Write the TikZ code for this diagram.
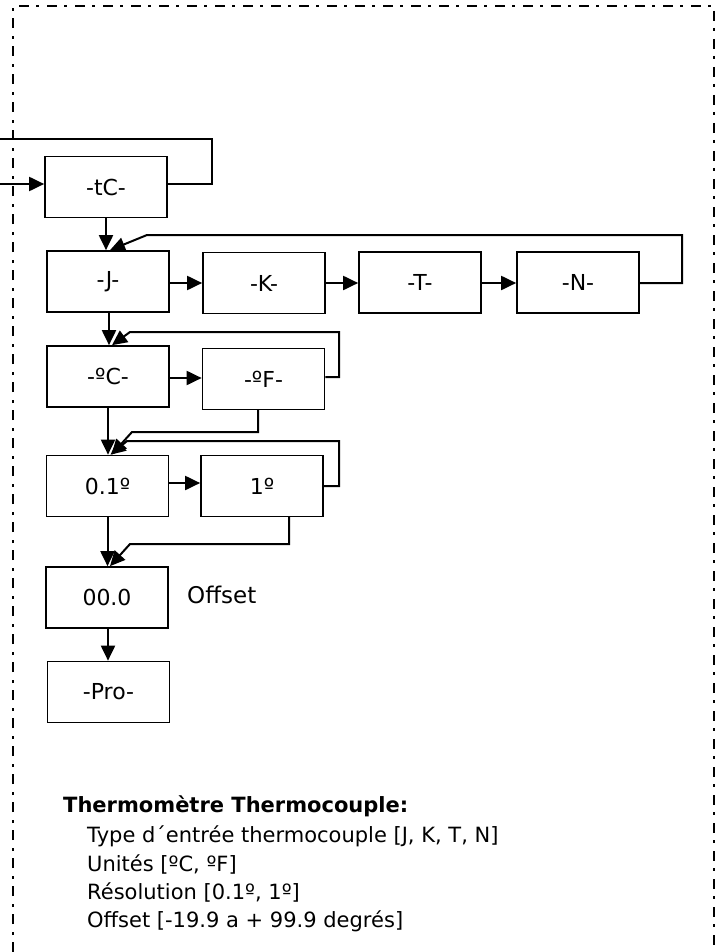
\documentclass[tikz,border=0pt]{standalone}
\usepackage{fontspec}
\setmainfont{DejaVu Sans}
\usetikzlibrary{arrows.meta}
\begin{document}
\begin{tikzpicture}[x=1pt,y=-1pt,
  box/.style={draw,line width=1.7pt,minimum width=122pt,minimum height=61pt,inner sep=0pt,font=\fontsize{22}{26}\selectfont},
  conn/.style={line width=2pt},
  arr/.style={conn,-{Triangle[length=15pt,width=14pt]}},
  frame/.style={line width=2pt,dash pattern=on 10pt off 7pt on 3pt off 8pt},
  txt/.style={anchor=base west,inner sep=0pt,font=\fontsize{21}{25}\selectfont}]
\useasboundingbox (0,0) rectangle (724,952);
% frame
\draw[frame] (13,952) -- (13,6) -- (714,6) -- (714,952);
% boxes
\node[box] (tC) at (106,187) {-tC-};
\node[box] (J) at (108,281.5) {-J-};
\node[box] (K) at (264,283) {-K-};
\node[box] (T) at (420,282.5) {-T-};
\node[box] (N) at (578,282.5) {-N-};
\node[box] (C) at (108,376.5) {-ºC-};
\node[box] (F) at (263.5,379) {-ºF-};
\node[box] (R1) at (107.5,486) {0.1º};
\node[box] (R2) at (262,486) {1º};
\node[box] (O) at (107,597.5) {00.0};
\node[box] (P) at (108.5,692) {-Pro-};
\node[txt,anchor=west,font=\fontsize{23}{27}\selectfont] (offl) at (187,595) {Offset};
% free ends
\coordinate (in) at (0,184);
\coordinate (out) at (0,139);
% connectors
\draw[arr] (in) -- (in -| tC.west);
\draw[conn] (tC.east |- 0,184) -- (212,184) -- (212,139) -- (out);
\draw[arr] (tC.south) -- (tC.south |- J.north);
\draw[arr] (J.east |- 0,283) -- (K.west |- 0,283);
\draw[arr] (K.east |- 0,283) -- (T.west |- 0,283);
\draw[arr] (T.east |- 0,283) -- (N.west |- 0,283);
\draw[arr] (N.east |- 0,283) -- (682,283) -- (682,235) -- (147,235) -- ([xshift=2pt]J.north);
\draw[arr] ([xshift=1pt]J.south) -- ([xshift=1pt]J.south |- C.north);
\draw[arr] (C.east |- 0,378) -- (F.west |- 0,378);
\draw[arr] (F.east |- 0,377) -- (339,377) -- (339,332) -- (130,332) -- ([xshift=4pt]C.north);
\draw[arr] (C.south) -- (C.south |- R1.north);
\draw[arr] (258,409) -- (258,432) -- (132,432) -- ([xshift=4pt]R1.north);
\draw[arr] (R1.east |- 0,483) -- (R2.west |- 0,483);
\draw[arr] (R2.east |- 0,486) -- (339,486) -- (339,441) -- (127,441) -- ([xshift=3pt]R1.north);
\draw[arr] (R1.south) -- (R1.south |- O.north);
\draw[arr] (289,517) -- (289,544) -- (130,544) -- ([xshift=3pt]O.north);
\draw[arr] ([xshift=1pt]O.south) -- ([xshift=1pt]O.south |- P.north);
% description
\node[txt,font=\fontsize{21}{25}\selectfont\bfseries] (h) at (63,812) {Thermomètre Thermocouple:};
\node[txt] (l1) at (87,842) {Type d´entrée thermocouple [J, K, T, N]};
\node[txt] (l2) at (87,871) {Unités [ºC, ºF]};
\node[txt] (l3) at (87,899) {Résolution [0.1º, 1º]};
\node[txt] (l4) at (87,927) {Offset [-19.9 a + 99.9 degrés]};
\end{tikzpicture}
\end{document}
